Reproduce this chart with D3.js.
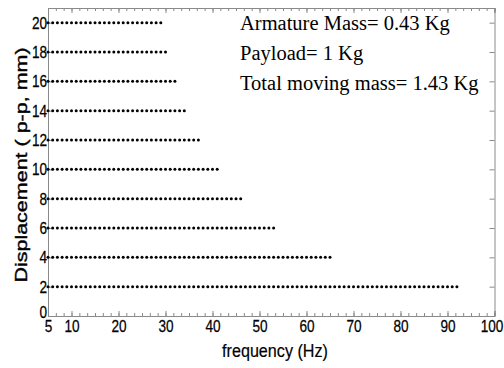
<!DOCTYPE html>
<html>
<head>
<meta charset="utf-8">
<script src="https://cdn.jsdelivr.net/npm/d3@7"></script>
<style>
  body { margin: 0; background: #fff; }
  svg { display: block; }
</style>
</head>
<body>
<div id="chart"></div>
<script>
// displacement levels (p-p, mm) and highest frequency reached at each level
var displacement = [2, 4, 6, 8, 10, 12, 14, 16, 18, 20];
var maxFreq = [92, 65, 53, 46, 41, 37, 34, 32, 30, 29];

// measured frequencies (Hz), 1 Hz steps
var freqs = [5, 6, 7, 8, 9, 10, 11, 12, 13, 14, 15, 16, 17, 18, 19, 20, 21, 22, 23, 24,
  25, 26, 27, 28, 29, 30, 31, 32, 33, 34, 35, 36, 37, 38, 39, 40, 41, 42, 43, 44,
  45, 46, 47, 48, 49, 50, 51, 52, 53, 54, 55, 56, 57, 58, 59, 60, 61, 62, 63, 64,
  65, 66, 67, 68, 69, 70, 71, 72, 73, 74, 75, 76, 77, 78, 79, 80, 81, 82, 83, 84,
  85, 86, 87, 88, 89, 90, 91, 92];

var xTicks = [5, 10, 20, 30, 40, 50, 60, 70, 80, 90, 100];
var yTicks = [0, 2, 4, 6, 8, 10, 12, 14, 16, 18, 20];

var notes = ["Armature Mass= 0.43 Kg", "Payload= 1 Kg", "Total moving mass= 1.43 Kg"];

var svgWidth = 504, svgHeight = 368;
var margin = { top: 8, right: 9.5, bottom: 52, left: 48 };
var width = svgWidth - margin.left - margin.right;
var height = svgHeight - margin.top - margin.bottom;

var svg = d3.select("#chart").append("svg")
  .attr("width", svgWidth)
  .attr("height", svgHeight);

var chartGroup = svg.append("g")
  .attr("transform", `translate(${margin.left}, ${margin.top})`);

var x = d3.scaleLinear().domain([5, 100]).range([0, width]);
var y = d3.scaleLinear().domain([0, 21]).range([height, 0]);

var axisColor = "#8a8a8a";
var minorTicks = d3.range(5, 100.01, 5 / 3);

// minor ticks bottom + top
chartGroup.append("g")
  .attr("transform", `translate(0, ${height})`)
  .call(d3.axisBottom(x).tickValues(minorTicks).tickSize(-3).tickFormat(""));
chartGroup.append("g")
  .call(d3.axisTop(x).tickValues(minorTicks).tickSize(-3).tickFormat(""));

// major ticks with labels
var bottomAxis = chartGroup.append("g")
  .attr("transform", `translate(0, ${height})`)
  .call(d3.axisBottom(x).tickValues(xTicks).tickSize(-5).tickPadding(4));
chartGroup.append("g")
  .call(d3.axisTop(x).tickValues(xTicks).tickSize(-5).tickFormat(""));

var leftAxis = chartGroup.append("g")
  .call(d3.axisLeft(y).tickValues(yTicks).tickSize(-5).tickPadding(1));
chartGroup.append("g")
  .attr("transform", `translate(${width}, 0)`)
  .call(d3.axisRight(y).tickValues(yTicks).tickSize(-5).tickFormat(""));

chartGroup.selectAll(".domain, .tick line")
  .attr("stroke", axisColor);

chartGroup.selectAll(".tick text")
  .attr("fill", "#000")
  .attr("stroke", "#000")
  .attr("stroke-width", 0.25)
  .attr("font-family", "Liberation Sans, Arial, sans-serif")
  .attr("font-size", "17px");
// last label sits right at the page edge, nudge it in a little
bottomAxis.selectAll(".tick text")
  .attr("transform", d => d === 100 ? "translate(-3,0) scale(0.8,1)" : "scale(0.8,1)");
leftAxis.selectAll(".tick text")
  .attr("transform", d => d === 0 ? "translate(0,-4) scale(0.8,1)" : "scale(0.8,1)")
  .attr("x", -1 / 0.8);

// dots
var points = [];
displacement.forEach(function(d, i) {
  freqs.forEach(function(f) {
    if (f <= maxFreq[i]) points.push({ f: f, d: d });
  });
});

chartGroup.selectAll("circle")
  .data(points)
  .enter()
  .append("circle")
  .attr("cx", d => x(d.f))
  .attr("cy", d => y(d.d))
  .attr("r", 1.5)
  .attr("fill", "#000");

// annotation
svg.append("g").selectAll("text")
  .data(notes)
  .enter()
  .append("text")
  .attr("x", 240)
  .attr("y", (d, i) => 30 + i * 30)
  .attr("font-family", "Liberation Serif, Times New Roman, serif")
  .attr("font-size", "20.5px")
  .attr("fill", "#000")
  .text(d => d);

// axis labels
svg.append("text")
  .attr("transform", "translate(275, 357) scale(0.85,1)")
  .attr("text-anchor", "middle")
  .attr("font-family", "Liberation Sans, Arial, sans-serif")
  .attr("font-size", "19px")
  .attr("stroke", "#000")
  .attr("stroke-width", 0.2)
  .text("frequency (Hz)");

svg.append("text")
  .attr("transform", "translate(27, 165) rotate(-90) scale(1,0.8)")
  .attr("text-anchor", "middle")
  .attr("font-family", "Liberation Sans, Arial, sans-serif")
  .attr("font-size", "21.5px")
  .attr("stroke", "#000")
  .attr("stroke-width", 0.5)
  .text("Displacement ( p-p, mm)");
</script>
</body>
</html>
